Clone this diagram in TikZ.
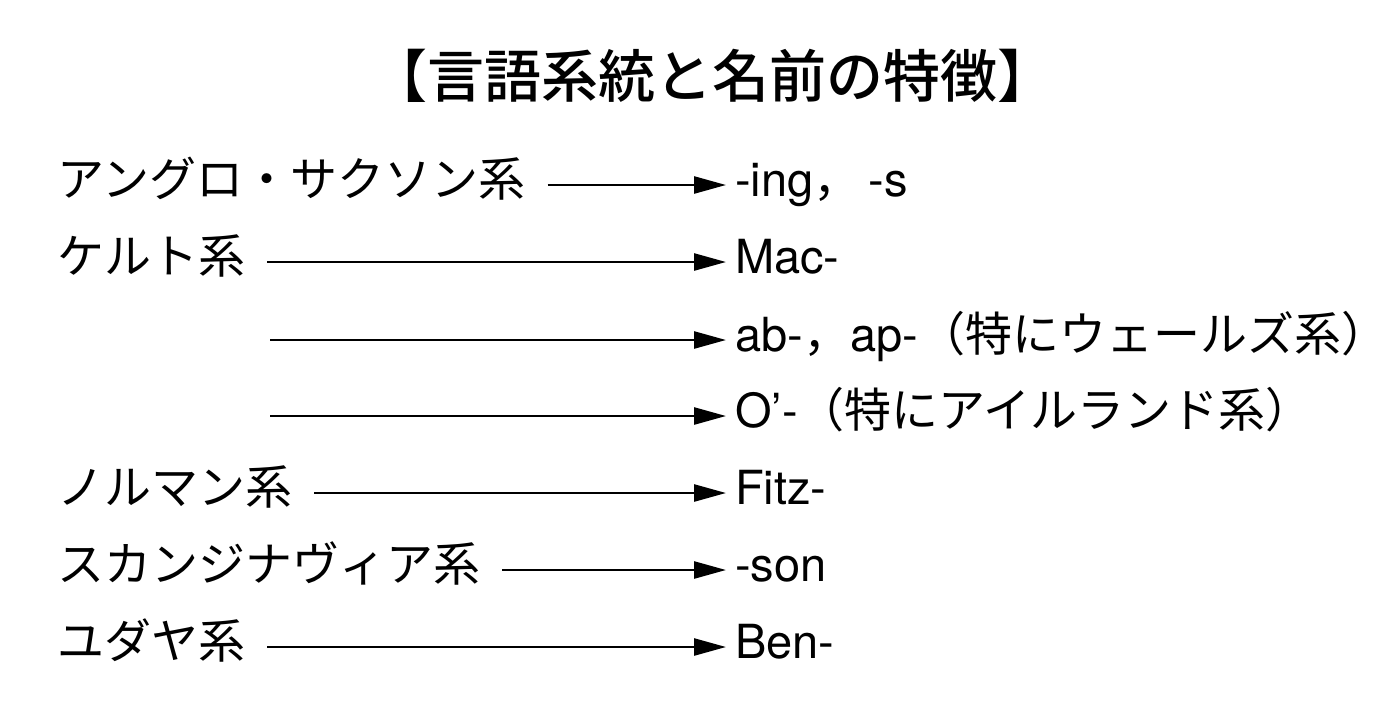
\documentclass[tikz,border=0pt]{standalone}
\usepackage{fontspec}
\setmainfont{TeX Gyre Heros}
\newfontfamily\jp{Noto Sans CJK JP}
\newfontfamily\jpmed{Noto Sans CJK JP Medium}
\usetikzlibrary{arrows.meta, positioning}

\begin{document}
\begin{tikzpicture}[
    x=1pt, y=-1pt,
    font=\fontsize{47}{56}\selectfont,
    lbl/.style={anchor=west, inner xsep=0pt, inner ysep=0pt, text height=30pt, text depth=8pt},
    arr/.style={-{Triangle[length=32pt, width=17pt]}, line width=2.6pt, shorten <=22pt, shorten >=9pt}
  ]
    \useasboundingbox (0,0) rectangle (1400,724);
    \node[font=\fontsize{57}{64}\selectfont\jpmed] (title) at (712,76) {【言語系統と名前の特徴】};
    % origins
    \node[lbl] (anglo) at (57,185) {\jp アングロ・サクソン系};
    \node[lbl] (celt) at (57,262) {\jp ケルト系};
    \coordinate (celtb) at (248,340);
    \coordinate (celtc) at (248,416);
    \node[lbl] (norman) at (57,493) {\jp ノルマン系};
    \node[lbl] (scand) at (57,570) {\jp スカンジナヴィア系};
    \node[lbl] (jewish) at (57,647) {\jp ユダヤ系};
    % name forms
    \node[lbl] (ing) at (735,185) {-ing{\jp ，}\hspace{8pt}-s};
    \node[lbl] (mac) at (735,262) {Mac-};
    \node[lbl] (ab) at (735,340) {ab-{\jp ，}ap-{\jp （特にウェールズ系）}};
    \node[lbl] (o) at (735,416) {O’-{\jp （特にアイルランド系）}};
    \node[lbl] (fitz) at (735,493) {Fitz-};
    \node[lbl] (son) at (735,570) {-son};
    \node[lbl] (ben) at (735,647) {Ben-};
    \draw[arr] (anglo) -- (ing);
    \draw[arr] (celt) -- (mac);
    \draw[arr] (celtb) -- (ab);
    \draw[arr] (celtc) -- (o);
    \draw[arr] (norman) -- (fitz);
    \draw[arr] (scand) -- (son);
    \draw[arr] (jewish) -- (ben);
\end{tikzpicture}
\end{document}
